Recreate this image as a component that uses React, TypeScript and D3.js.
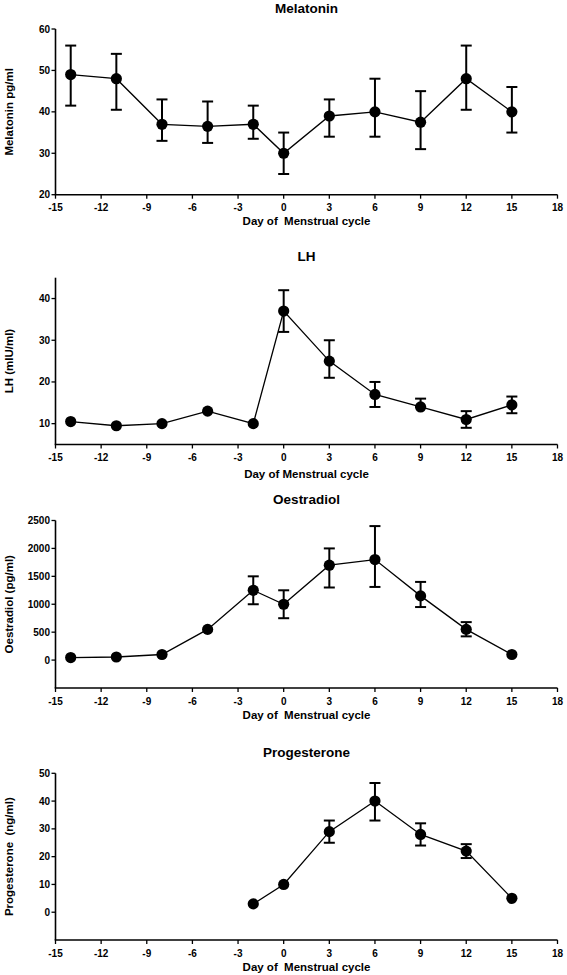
import React, { useEffect } from "react";
import * as d3 from "d3";

// ---- data ----
const days = [-14, -11, -8, -5, -2, 0, 3, 6, 9, 12, 15];
const xTicks = [-15, -12, -9, -6, -3, 0, 3, 6, 9, 12, 15, 18];

const melatoninMean = [49, 48, 37, 36.5, 37, 30, 39, 40, 37.5, 48, 40];
const melatoninLow = [41.5, 40.5, 33, 32.5, 33.5, 25, 34, 34, 31, 40.5, 35];
const melatoninHigh = [56, 54, 43, 42.5, 41.5, 35, 43, 48, 45, 56, 46];

const lhMean = [10.5, 9.5, 10, 13, 10, 37, 25, 17, 14, 11, 14.5];
const lhLow: (number | null)[] = [null, null, null, null, null, 32, 21, 14, 14, 9, 12.5];
const lhHigh: (number | null)[] = [null, null, null, null, null, 42, 30, 20, 16, 13, 16.5];

const oeMean = [45, 55, 100, 550, 1250, 1000, 1700, 1800, 1150, 550, 100];
const oeLow: (number | null)[] = [null, null, null, null, 1000, 750, 1300, 1310, 950, 425, null];
const oeHigh: (number | null)[] = [null, null, null, null, 1500, 1250, 2000, 2400, 1400, 680, null];

const progDays = [-2, 0, 3, 6, 9, 12, 15];
const progMean = [3, 10, 29, 40, 28, 22, 5];
const progLow: (number | null)[] = [null, null, 25, 33, 24, 19.5, null];
const progHigh: (number | null)[] = [null, null, 33, 46.5, 32, 24.5, null];

const melatoninTicks = [20, 30, 40, 50, 60];
const lhTicks = [10, 20, 30, 40];
const oeTicks = [0, 500, 1000, 1500, 2000, 2500];
const progTicks = [0, 10, 20, 30, 40, 50];

const FONT = "'Liberation Sans', Arial, Helvetica, sans-serif";

type PanelProps = {
  title: string;
  yLabel: string;
  xLabel: string;
  xs: number[];
  mean: number[];
  low: (number | null)[];
  high: (number | null)[];
  yDomain: [number, number];
  yTicks: number[];
  top: number;
  bottom: number;
  xLabelOffset: number;
};

const xScale = d3.scaleLinear().domain([-15, 18]).range([55.5, 557.5]);

function Panel(p: PanelProps) {
  const y = d3.scaleLinear().domain(p.yDomain).range([p.bottom, p.top]);
  const line = d3
    .line<number>()
    .x((_, i) => xScale(p.xs[i]))
    .y((d) => y(d));
  const x0 = xScale(-15);
  const x1 = xScale(18);
  const cx = (x0 + x1) / 2;
  const cap = 5.5;
  return (
    <g>
      <text
        x={cx}
        y={p.top - 21}
        textAnchor="middle"
        dominantBaseline="central"
        fontSize={13.5}
        fontWeight="bold"
        fontFamily={FONT}
      >
        {p.title}
      </text>
      {/* axes */}
      <line x1={x0} x2={x0} y1={p.top} y2={p.bottom} stroke="#000" strokeWidth={1.6} />
      <line x1={x0 - 0.8} x2={x1} y1={p.bottom} y2={p.bottom} stroke="#000" strokeWidth={1.6} />
      {p.yTicks.map((t) => (
        <g key={"y" + t}>
          <line x1={x0 - 4} x2={x0} y1={y(t)} y2={y(t)} stroke="#000" strokeWidth={1.3} />
          <text
            x={x0 - 5.5}
            y={y(t)}
            textAnchor="end"
            dominantBaseline="central"
            fontSize={10}
            fontWeight="bold"
            fontFamily={FONT}
          >
            {t}
          </text>
        </g>
      ))}
      {xTicks.map((t) => (
        <g key={"x" + t}>
          <line x1={xScale(t)} x2={xScale(t)} y1={p.bottom} y2={p.bottom + 4} stroke="#000" strokeWidth={1.3} />
          <text
            x={xScale(t)}
            y={p.bottom + 13}
            textAnchor="middle"
            dominantBaseline="central"
            fontSize={10}
            fontWeight="bold"
            fontFamily={FONT}
          >
            {t}
          </text>
        </g>
      ))}
      <text
        x={cx}
        y={p.bottom + p.xLabelOffset}
        textAnchor="middle"
        dominantBaseline="central"
        fontSize={11.5}
        fontWeight="bold"
        fontFamily={FONT}
        style={{ whiteSpace: "pre" }}
      >
        {p.xLabel}
      </text>
      <text
        transform={`translate(8.5,${(p.top + p.bottom) / 2}) rotate(-90)`}
        textAnchor="middle"
        dominantBaseline="central"
        fontSize={11.5}
        fontWeight="bold"
        fontFamily={FONT}
        style={{ whiteSpace: "pre" }}
      >
        {p.yLabel}
      </text>
      {/* error bars */}
      {p.xs.map((d, i) => {
        const lo = p.low[i];
        const hi = p.high[i];
        if (lo == null || hi == null) return null;
        const xx = xScale(d);
        return (
          <g key={"e" + i} stroke="#000" strokeWidth={2}>
            <line x1={xx} x2={xx} y1={y(lo)} y2={y(hi)} />
            <line x1={xx - cap} x2={xx + cap} y1={y(lo)} y2={y(lo)} />
            <line x1={xx - cap} x2={xx + cap} y1={y(hi)} y2={y(hi)} />
          </g>
        );
      })}
      <path d={line(p.mean) || ""} fill="none" stroke="#000" strokeWidth={1.3} />
      {p.xs.map((d, i) => (
        <circle key={"c" + i} cx={xScale(d)} cy={y(p.mean[i])} r={5.6} fill="#000" />
      ))}
    </g>
  );
}

export default function App() {
  useEffect(() => {
    document.body.style.margin = "0";
  }, []);
  return (
    <svg width={567} height={975} style={{ display: "block", background: "#fff" }}>
      <rect width={567} height={975} fill="#fff" />
      <Panel
        title="Melatonin"
        yLabel="Melatonin pg/ml"
        xLabel="Day of  Menstrual cycle"
        xs={days}
        mean={melatoninMean}
        low={melatoninLow}
        high={melatoninHigh}
        yDomain={[20, 60]}
        yTicks={melatoninTicks}
        top={29}
        bottom={194.7}
        xLabelOffset={26.5}
      />
      <Panel
        title="LH"
        yLabel="LH (mIU/ml)"
        xLabel="Day of Menstrual cycle"
        xs={days}
        mean={lhMean}
        low={lhLow}
        high={lhHigh}
        yDomain={[5, 45]}
        yTicks={lhTicks}
        top={277.7}
        bottom={444.5}
        xLabelOffset={29.5}
      />
      <Panel
        title="Oestradiol"
        yLabel="Oestradiol (pg/ml)"
        xLabel="Day of  Menstrual cycle"
        xs={days}
        mean={oeMean}
        low={oeLow}
        high={oeHigh}
        yDomain={[-500, 2500]}
        yTicks={oeTicks}
        top={520.5}
        bottom={688}
        xLabelOffset={27.3}
      />
      <Panel
        title="Progesterone"
        yLabel="Progesterone  (ng/ml)"
        xLabel="Day of  Menstrual cycle"
        xs={progDays}
        mean={progMean}
        low={progLow}
        high={progHigh}
        yDomain={[-10, 50]}
        yTicks={progTicks}
        top={773.3}
        bottom={940}
        xLabelOffset={26.7}
      />
    </svg>
  );
}
